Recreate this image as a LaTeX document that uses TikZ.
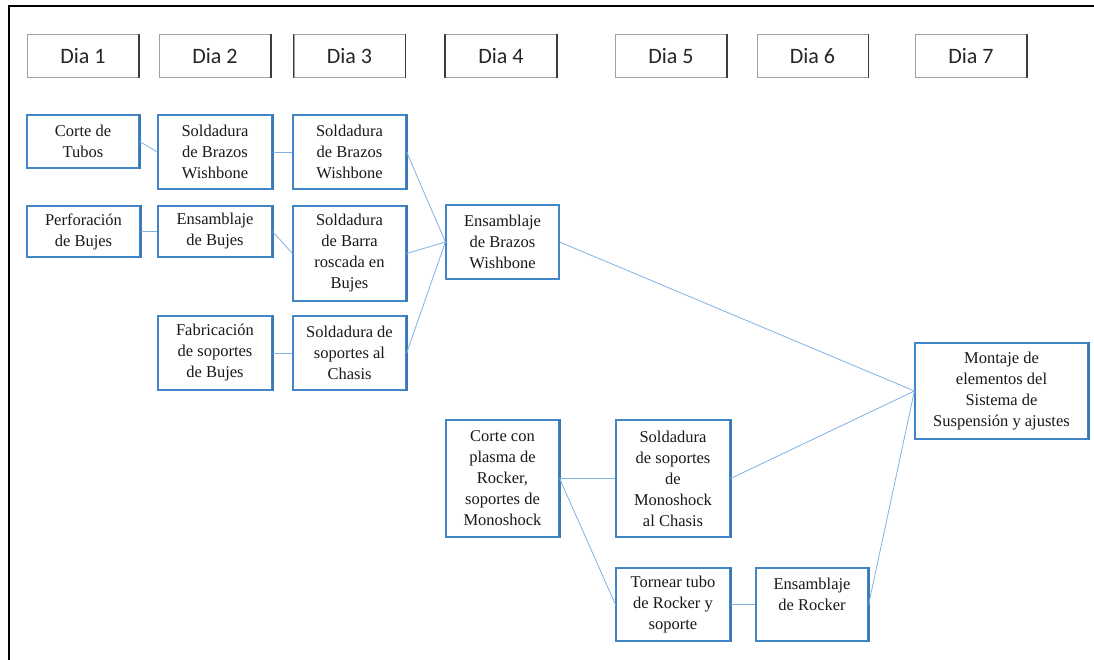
\documentclass[tikz,border=0pt]{standalone}
\usepackage{fontspec}
\setmainfont{Liberation Serif}
\newfontfamily\hdrfont{Carlito}
\definecolor{taskblue}{RGB}{66,133,200}
\definecolor{linkblue}{RGB}{130,178,228}
\definecolor{daygray}{RGB}{160,160,160}
\definecolor{dayshade}{RGB}{60,60,60}
\begin{document}
\begin{tikzpicture}[x=1pt,y=-1pt,
  day/.style={draw=daygray, line width=1pt, minimum width=111pt, minimum height=43pt,
    inner sep=0pt, font=\hdrfont\fontsize{22}{26}\selectfont, text=black!85},
  task/.style={draw=taskblue, line width=1.2pt, align=center, inner sep=0pt,
    font=\rmfamily\fontsize{16.5}{21}\selectfont, text=black!90},
  link/.style={draw=linkblue, line width=0.8pt},
  dayedge/.style={draw=dayshade, line width=1.3pt},
  taskedge/.style={draw=taskblue!90!black, line width=2pt}]
\useasboundingbox (0,0) rectangle (1094,660);
\fill[white] (0,0) rectangle (1094,660);
% outer frame (left and top)
\draw[line width=2pt] (9,660) -- (9,6) -- (1094,6);

% day headers
\node[day] (d1) at (83,56.5) {Dia 1};
\node[day] (d2) at (215,56.5) {Dia 2};
\node[day] (d3) at (349.5,56.5) {Dia 3};
\node[day] (d4) at (501,56.5) {Dia 4};
\node[day] (d5) at (671,56.5) {Dia 5};
\node[day] (d6) at (812.5,56.5) {Dia 6};
\node[day] (d7) at (971,56.5) {Dia 7};
% darker right edges of the headers
\foreach \n in {d1,d2,d3,d4,d5,d6,d7}
  \draw[dayedge] (\n.north east) -- (\n.south east);
\foreach \n in {d3,d4}
  \draw[dayedge] (\n.north west) -- (\n.south west);

% tasks
\node[task, minimum width=112, minimum height=53] (tubos) at (83,141.5) {Corte de\\Tubos};
\node[task, minimum width=114, minimum height=74] (sold2) at (215,152) {Soldadura\\de Brazos\\Wishbone};
\node[task, minimum width=113, minimum height=74] (sold3) at (349.5,152) {Soldadura\\de Brazos\\Wishbone};
\node[task, minimum width=113, minimum height=51] (perf) at (83.5,231.5) {Perforación\\de Bujes};
\node[task, minimum width=114, minimum height=51] (ensbuj) at (215,231.5) {Ensamblaje\\de Bujes};
\node[task, minimum width=113, minimum height=95] (barra) at (349.5,253.5) {Soldadura\\de Barra\\roscada en\\Bujes};
\node[task, minimum width=114, minimum height=74] (fabr) at (215,353) {Fabricación\\de soportes\\de Bujes};
\node[task, minimum width=113, minimum height=74] (solch) at (349.5,353) {Soldadura de\\soportes al\\Chasis};
\node[task, minimum width=113, minimum height=74] (ensbr) at (502.5,242) {Ensamblaje\\de Brazos\\Wishbone};
\node[task, minimum width=113, minimum height=117] (corte) at (502.5,478.5) {Corte con\\plasma de\\Rocker,\\soportes de\\Monoshock};
\node[task, minimum width=114, minimum height=117] (solmono) at (673,478.5) {Soldadura\\de soportes\\de\\Monoshock\\al Chasis};
\node[task, minimum width=114, minimum height=73] (tornear) at (673,604.5) {Tornear tubo\\de Rocker y\\soporte};
\node[task, minimum width=112, minimum height=73] (rocker) at (812,604.5) {Ensamblaje\\de Rocker\\\mbox{}};
\node[task, minimum width=173, minimum height=96] (montaje) at (1001.5,391) {Montaje de\\elementos del\\Sistema de\\Suspensión y ajustes};
% heavier right edges of the task boxes
\foreach \n in {tubos,sold2,sold3,perf,ensbuj,barra,fabr,solch,corte,solmono,tornear,rocker,montaje}
  \draw[taskedge] (\n.north east) -- (\n.south east);

% dependencies
\draw[link] (tubos.east) -- (sold2.west);
\draw[link] (sold2.east) -- (sold3.west);
\draw[link] (perf.east) -- (ensbuj.west);
\draw[link] (ensbuj.east) -- (barra.west);
\draw[link] (fabr.east) -- (solch.west);
\draw[link] (sold3.east) -- (ensbr.west);
\draw[link] (barra.east) -- (ensbr.west);
\draw[link] (solch.east) -- (ensbr.west);
\draw[link] (ensbr.east) -- (montaje.west);
\draw[link] (corte.east) -- (solmono.west);
\draw[link] (corte.east) -- (tornear.west);
\draw[link] (solmono.east) -- (montaje.west);
\draw[link] (tornear.east) -- (rocker.west);
\draw[link] (rocker.east) -- (montaje.west);
\end{tikzpicture}
\end{document}
